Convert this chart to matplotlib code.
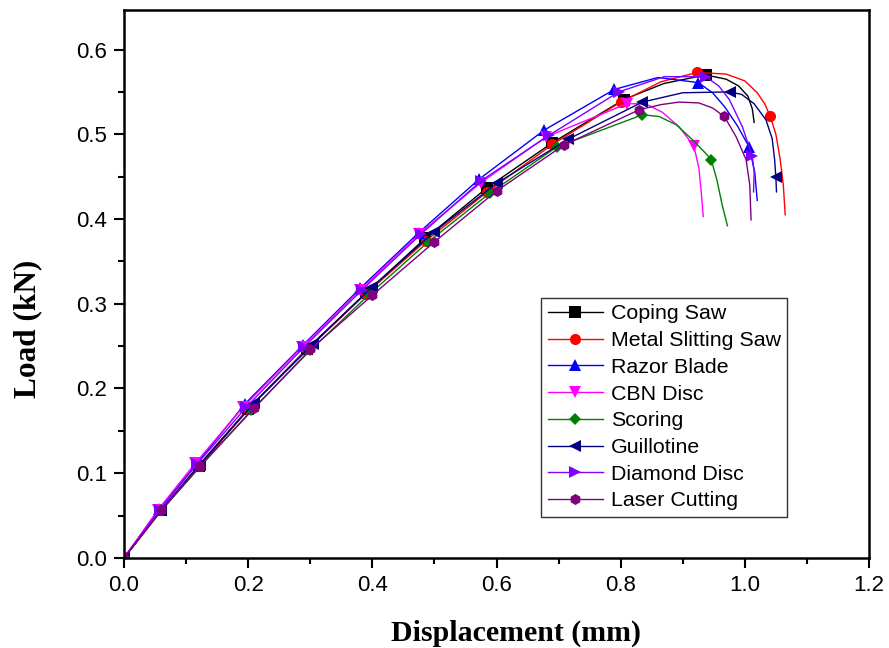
import numpy as np
import matplotlib
matplotlib.use("Agg")
from matplotlib import pyplot as plt
from matplotlib.ticker import MultipleLocator, FormatStrFormatter

# Load-displacement curves
coping_x = [0, 0.06, 0.12, 0.2, 0.295, 0.39, 0.485, 0.585, 0.69, 0.805, 0.87, 0.937, 0.97, 0.99, 1.005, 1.012, 1.015]
coping_y = [0, 0.056, 0.109, 0.176, 0.247, 0.313, 0.377, 0.437, 0.49, 0.541, 0.560, 0.570, 0.565, 0.557, 0.545, 0.53, 0.514]
coping_mk = [0, 1, 2, 3, 4, 5, 6, 7, 8, 9, 11]

metal_x = [0, 0.06, 0.122, 0.2, 0.295, 0.39, 0.486, 0.585, 0.69, 0.80, 0.865, 0.923, 0.97, 1.0, 1.02, 1.032, 1.041, 1.05, 1.057, 1.062, 1.065]
metal_y = [0, 0.056, 0.108, 0.176, 0.246, 0.312, 0.374, 0.432, 0.488, 0.538, 0.562, 0.573, 0.571, 0.563, 0.549, 0.536, 0.521, 0.5, 0.47, 0.44, 0.405]
metal_mk = [0, 1, 2, 3, 4, 5, 6, 7, 8, 9, 11, 16]

razor_x = [0, 0.057, 0.118, 0.195, 0.288, 0.38, 0.475, 0.572, 0.677, 0.79, 0.86, 0.925, 0.948, 0.968, 0.988, 1.007, 1.016, 1.02]
razor_y = [0, 0.058, 0.112, 0.182, 0.251, 0.318, 0.384, 0.447, 0.505, 0.553, 0.567, 0.561, 0.549, 0.532, 0.51, 0.485, 0.455, 0.422]
razor_mk = [0, 1, 2, 3, 4, 5, 6, 7, 8, 9, 11, 15]

cbn_x = [0, 0.055, 0.115, 0.192, 0.287, 0.38, 0.475, 0.575, 0.68, 0.81, 0.84, 0.867, 0.894, 0.918, 0.926, 0.93, 0.933]
cbn_y = [0, 0.057, 0.112, 0.178, 0.249, 0.316, 0.382, 0.443, 0.497, 0.536, 0.536, 0.526, 0.509, 0.486, 0.46, 0.43, 0.403]
cbn_mk = [0, 1, 2, 3, 4, 5, 6, 7, 8, 9, 13]

scoring_x = [0, 0.06, 0.123, 0.205, 0.3, 0.395, 0.49, 0.59, 0.697, 0.835, 0.862, 0.89, 0.915, 0.935, 0.946, 0.955, 0.964, 0.972]
scoring_y = [0, 0.056, 0.108, 0.174, 0.245, 0.311, 0.373, 0.431, 0.485, 0.523, 0.521, 0.511, 0.494, 0.479, 0.47, 0.446, 0.415, 0.392]
scoring_mk = [0, 1, 2, 3, 4, 5, 6, 7, 8, 9, 14]

guill_x = [0, 0.06, 0.122, 0.21, 0.305, 0.4, 0.5, 0.6, 0.715, 0.835, 0.9, 0.976, 0.995, 1.015, 1.034, 1.044, 1.048, 1.05, 1.051]
guill_y = [0, 0.057, 0.11, 0.183, 0.253, 0.32, 0.385, 0.442, 0.494, 0.538, 0.549, 0.550, 0.547, 0.536, 0.517, 0.495, 0.47, 0.449, 0.432]
guill_mk = [0, 1, 2, 3, 4, 5, 6, 7, 8, 9, 11, 17]

diamond_x = [0, 0.058, 0.118, 0.197, 0.29, 0.383, 0.478, 0.575, 0.685, 0.797, 0.87, 0.937, 0.958, 0.975, 0.996, 1.012, 1.015, 1.014]
diamond_y = [0, 0.057, 0.111, 0.178, 0.249, 0.316, 0.382, 0.445, 0.499, 0.55, 0.568, 0.568, 0.557, 0.541, 0.509, 0.474, 0.455, 0.432]
diamond_mk = [0, 1, 2, 3, 4, 5, 6, 7, 8, 9, 11, 15]

laser_x = [0, 0.06, 0.122, 0.21, 0.3, 0.4, 0.5, 0.6, 0.708, 0.83, 0.865, 0.894, 0.926, 0.948, 0.967, 0.986, 1.002, 1.008, 1.01]
laser_y = [0, 0.056, 0.108, 0.177, 0.246, 0.31, 0.373, 0.433, 0.487, 0.529, 0.535, 0.538, 0.537, 0.531, 0.521, 0.497, 0.47, 0.44, 0.399]
laser_mk = [0, 1, 2, 3, 4, 5, 6, 7, 8, 9, 14]

series = [
    ("Coping Saw", coping_x, coping_y, coping_mk, "black", "s"),
    ("Metal Slitting Saw", metal_x, metal_y, metal_mk, "red", "o"),
    ("Razor Blade", razor_x, razor_y, razor_mk, "blue", "^"),
    ("CBN Disc", cbn_x, cbn_y, cbn_mk, "#FF00FF", "v"),
    ("Scoring", scoring_x, scoring_y, scoring_mk, "#008000", "D"),
    ("Guillotine", guill_x, guill_y, guill_mk, "#000080", "<"),
    ("Diamond Disc", diamond_x, diamond_y, diamond_mk, "#8000FF", ">"),
    ("Laser Cutting", laser_x, laser_y, laser_mk, "#800080", "h"),
]

fig = plt.figure(figsize=(8.89, 6.48), dpi=100)
ax = fig.add_axes([0.1395, 0.139, 0.838, 0.846])

for name, xs, ys, mk, col, m in series:
    ms = 6.5 if m == "D" else 8
    ax.plot(xs, ys, color=col, lw=1.0, marker=m, markevery=mk, ms=ms,
            markeredgewidth=0, label=name)

ax.set_xlim(0, 1.2)
ax.set_ylim(0, 0.647)
ax.xaxis.set_major_locator(MultipleLocator(0.2))
ax.xaxis.set_minor_locator(MultipleLocator(0.1))
ax.yaxis.set_major_locator(MultipleLocator(0.1))
ax.yaxis.set_minor_locator(MultipleLocator(0.05))
ax.xaxis.set_major_formatter(FormatStrFormatter("%.1f"))
ax.yaxis.set_major_formatter(FormatStrFormatter("%.1f"))

ax.tick_params(which="both", direction="out", width=1.5, top=False, right=False)
ax.tick_params(which="major", length=7, labelsize=16, pad=5)
ax.tick_params(which="minor", length=4)
for lab in ax.get_xticklabels() + ax.get_yticklabels():
    lab.set_family("Liberation Sans")
for sp in ax.spines.values():
    sp.set_linewidth(1.8)

ax.set_xlabel("Displacement (mm)", family="Liberation Serif", fontweight="bold",
              fontsize=21.5)
ax.set_ylabel("Load (kN)", family="Liberation Serif", fontweight="bold",
              fontsize=22.5)
ax.xaxis.set_label_coords(0.526, -0.113)
ax.yaxis.set_label_coords(-0.11, 0.418)

leg = ax.legend(loc="lower right", bbox_to_anchor=(0.89, 0.075),
                prop={"family": "Liberation Sans", "size": 15.4},
                frameon=True, fancybox=False, edgecolor="black",
                handlelength=2.6, labelspacing=0.36, borderpad=0.3,
                handletextpad=0.35, borderaxespad=0)
leg.get_frame().set_linewidth(1.0)

fig.savefig("out.png", dpi=100)
